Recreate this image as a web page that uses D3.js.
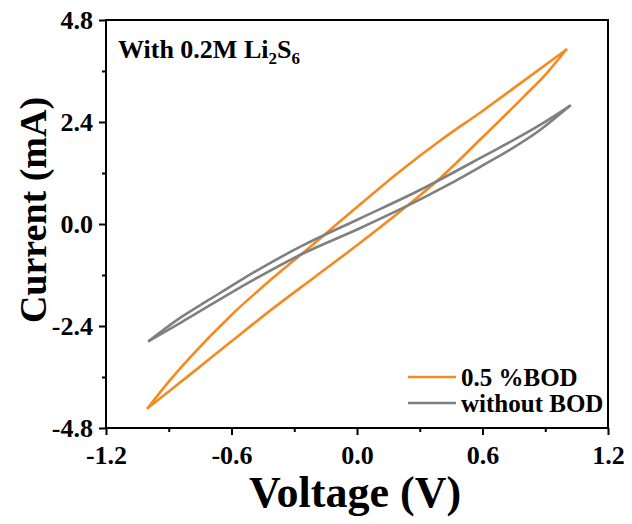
<!DOCTYPE html>
<html>
<head>
<meta charset="utf-8">
<script src="https://cdn.jsdelivr.net/npm/d3@7"></script>
<style>
  body { margin: 0; background: #fff; }
  text { font-family: "Liberation Serif", "Times New Roman", serif; font-weight: bold; }
</style>
</head>
<body>
<div class="chart"></div>
<script>
// values (voltage V, current mA); each loop = lower + upper branch
var bodV = [-1.0, -0.9, -0.8, -0.6, -0.4, -0.2, 0.0, 0.2, 0.4, 0.6, 0.8, 0.9, 1.0];
var bodLowerI = [-4.33, -3.94, -3.55, -2.76, -1.98, -1.24, -0.50, 0.27, 1.09, 2.04, 3.01, 3.51, 4.1];
var bodUpperI = [-4.33, -3.71, -3.15, -2.14, -1.26, -0.44, 0.40, 1.22, 1.97, 2.66, 3.38, 3.74, 4.1];

var noneUpperV = [-0.994, -0.846, -0.703, -0.559, -0.416, -0.273, 0.014, 0.301, 0.588, 0.875, 1.018];
var noneUpperI = [-2.75, -2.21, -1.77, -1.33, -0.92, -0.54, 0.13, 0.80, 1.55, 2.33, 2.78];
var noneLowerV = [-0.994, -0.846, -0.497, -0.273, 0.014, 0.335, 0.588, 0.875, 1.018];
var noneLowerI = [-2.75, -2.33, -1.32, -0.73, -0.10, 0.66, 1.34, 2.21, 2.78];

var xTicks = [-1.2, -0.6, 0.0, 0.6, 1.2];
var xMinor = [-0.9, -0.3, 0.3, 0.9];
var yTicks = [-4.8, -2.4, 0.0, 2.4, 4.8];
var yMinor = [-3.6, -1.2, 1.2, 3.6];

var seriesNames = ["0.5 %BOD", "without BOD"];
var seriesColors = ["#F58A1F", "#808080"];

var width = 632, height = 524;
var plotLeft = 106, plotRight = 608, plotTop = 20, plotBottom = 428;

var svg = d3.select(".chart").append("svg")
  .attr("width", width)
  .attr("height", height);

var x = d3.scaleLinear().domain([-1.2, 1.2]).range([plotLeft, plotRight]);
var y = d3.scaleLinear().domain([-4.8, 4.8]).range([plotBottom, plotTop]);

function pairs(vs, is) {
  return vs.map(function(v, k) { return [v, is[k]]; });
}

var line = d3.line()
  .x(function(d) { return x(d[0]); })
  .y(function(d) { return y(d[1]); })
  .curve(d3.curveMonotoneX);

var branches = [
  { pts: pairs(bodV, bodLowerI), s: 0 },
  { pts: pairs(bodV, bodUpperI), s: 0 },
  { pts: pairs(noneLowerV, noneLowerI), s: 1 },
  { pts: pairs(noneUpperV, noneUpperI), s: 1 }
];

branches.forEach(function(b) {
  svg.append("path")
    .attr("d", line(b.pts))
    .attr("fill", "none")
    .attr("stroke", seriesColors[b.s])
    .attr("stroke-width", 2.6)
    .attr("stroke-linecap", "round");
});

var fmt = function(d) { return d3.format(".1f")(d).replace("\u2212", "-"); };

// axes
svg.append("g")
  .attr("transform", "translate(0," + plotBottom + ")")
  .call(d3.axisBottom(x).tickValues(xTicks).tickSize(7).tickPadding(11).tickFormat(fmt));
svg.append("g")
  .attr("transform", "translate(" + plotLeft + ",0)")
  .call(d3.axisLeft(y).tickValues(yTicks).tickSize(7).tickPadding(6).tickFormat(fmt));

svg.append("g")
  .attr("transform", "translate(0," + plotBottom + ")")
  .call(d3.axisBottom(x).tickValues(xMinor).tickSize(4).tickFormat(""));
svg.append("g")
  .attr("transform", "translate(" + plotLeft + ",0)")
  .call(d3.axisLeft(y).tickValues(yMinor).tickSize(4).tickFormat(""));

svg.selectAll(".domain").remove();
svg.selectAll(".tick line").attr("stroke", "#000").attr("stroke-width", 2);
svg.selectAll(".tick text")
  .attr("font-size", 26)
  .attr("fill", "#000");

svg.append("rect")
  .attr("x", plotLeft).attr("y", plotTop)
  .attr("width", plotRight - plotLeft).attr("height", plotBottom - plotTop)
  .attr("fill", "none")
  .attr("stroke", "#000")
  .attr("stroke-width", 2);

// titles
svg.append("text")
  .attr("x", (plotLeft + plotRight) / 2 - 2).attr("y", 507)
  .attr("text-anchor", "middle")
  .attr("font-size", 44)
  .text("Voltage (V)");

svg.append("text")
  .attr("transform", "translate(46,210) rotate(-90)")
  .attr("text-anchor", "middle")
  .attr("font-size", 38)
  .text("Current (mA)");

var note = svg.append("text")
  .attr("x", 118).attr("y", 58)
  .attr("font-size", 26);
note.append("tspan").text("With 0.2M Li");
note.append("tspan").attr("font-size", 17).attr("dy", 6).text("2");
note.append("tspan").attr("dy", -6).text("S");
note.append("tspan").attr("font-size", 17).attr("dy", 6).text("6");

// legend
var legend = svg.append("g");
seriesNames.forEach(function(name, k) {
  var ly = 377 + k * 26;
  legend.append("line")
    .attr("x1", 408).attr("x2", 456)
    .attr("y1", ly).attr("y2", ly)
    .attr("stroke", seriesColors[k])
    .attr("stroke-width", 2.6);
  legend.append("text")
    .attr("x", 461).attr("y", ly + 9)
    .attr("font-size", 25)
    .text(name);
});
</script>
</body>
</html>
